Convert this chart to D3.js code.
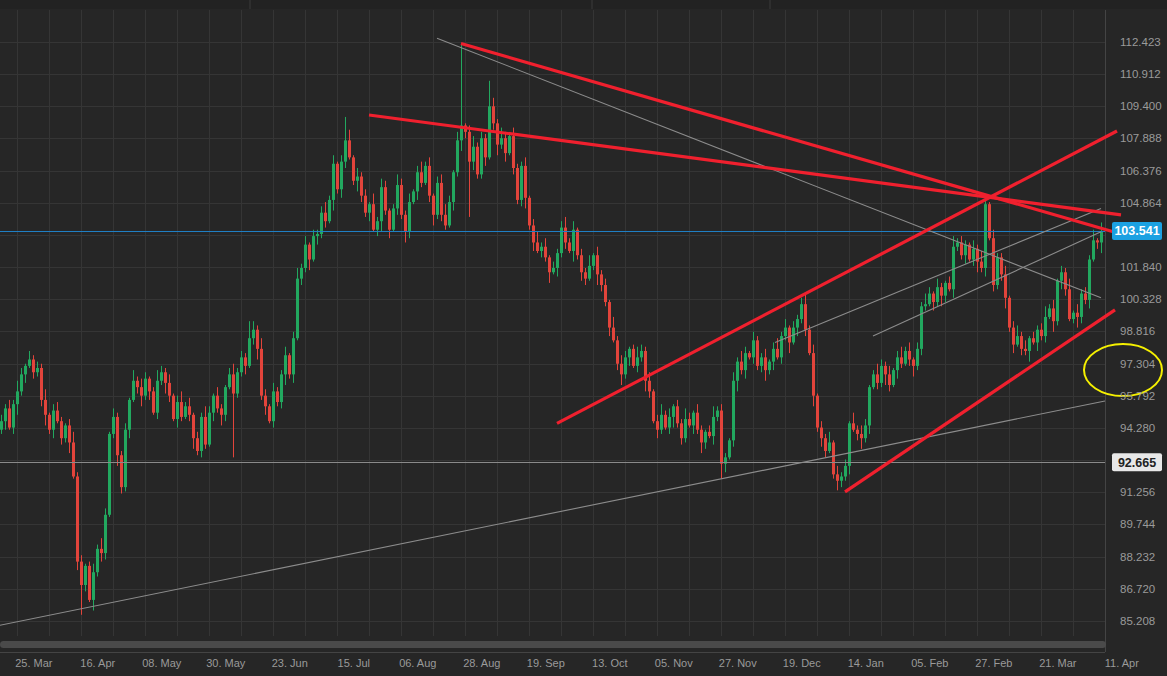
<!DOCTYPE html>
<html>
<head>
<meta charset="utf-8">
<script src="https://cdn.jsdelivr.net/npm/d3@7"></script>
<style>
  html, body { margin: 0; padding: 0; background: #262626; overflow: hidden; }
  svg { display: block; }
</style>
</head>
<body>
<svg id="chart" width="1167" height="676"></svg>
<script>
// daily closes, one per trading day
const closes = [
  94.6,95.2,94.3,95.4,96.0,96.8,97.2,97.5,96.9,97.1,
  95.6,94.9,94.2,95.1,94.6,93.8,94.4,93.6,92.0,88.0,
  86.9,87.8,86.2,87.5,88.6,88.4,90.2,94.0,94.8,93.0,
  91.5,94.2,95.6,96.5,96.2,95.8,96.6,96.0,95.0,96.5,
  96.9,96.4,95.8,94.7,95.5,94.8,95.3,94.9,93.8,93.2,
  94.8,93.5,95.0,95.8,95.2,94.9,96.2,96.8,95.9,96.9,
  97.6,97.2,98.5,98.9,98.0,95.8,95.3,94.6,96.0,95.5,
  96.8,97.7,96.8,98.5,101.3,101.8,102.9,102.2,103.3,103.4,
  104.4,104.0,105.0,106.7,105.5,106.8,107.8,107.0,105.9,106.1,
  105.2,104.4,104.8,103.6,104.0,105.6,104.5,103.6,104.6,105.7,
  104.3,103.5,104.9,105.4,106.3,105.8,106.6,105.2,104.3,105.8,
  104.3,103.8,104.9,106.3,107.8,108.5,108.2,106.8,107.5,106.2,
  107.9,107.0,109.4,108.6,107.6,107.9,107.2,108.0,106.5,105.0,
  106.6,105.1,103.8,103.0,102.6,102.8,102.3,101.6,101.8,102.5,
  103.7,103.0,102.6,103.6,102.4,101.6,101.3,101.9,102.4,101.5,
  101.0,100.2,99.0,98.4,97.3,96.8,97.6,98.0,97.2,97.6,
  97.9,96.5,96.0,94.6,94.2,94.9,94.3,94.8,95.3,94.5,
  93.8,94.7,94.4,95.0,94.2,93.6,94.1,93.9,94.8,95.1,
  92.6,92.9,93.7,96.5,97.4,97.0,97.8,97.6,98.4,97.2,
  97.6,97.0,97.4,98.0,97.6,98.6,99.0,98.3,99.0,99.4,
  100.1,98.9,97.8,95.8,94.3,93.8,93.2,93.6,92.1,91.8,
  92.0,92.5,94.5,94.2,94.0,93.8,94.4,96.2,96.8,96.4,
  97.2,96.8,96.3,97.0,97.6,97.3,97.9,97.5,97.2,98.0,
  100.0,100.1,100.6,100.2,100.9,100.5,101.1,100.8,102.8,103.0,
  102.4,102.9,102.2,102.7,102.1,101.8,104.8,103.2,101.0,102.3,
  101.5,100.4,99.0,98.2,98.6,98.0,97.9,98.5,98.3,98.9,
  98.6,99.5,99.9,99.3,101.2,101.6,100.8,99.4,99.7,99.5,
  100.6,100.3,102.2,103.1,103.0,103.541
];
const firstOpen = 94.2;
// wick lengths in tenths (base 36 digit per bar)
const upWick = "3242531423251342135231242531422315243125324135241325314213523214253142241352413235241325142315243125324135241345314213523214253142241352413235241325142315243125324135241325314213523214253142241352413235241325142315243125324135241325314213523214253142241352413235241325142325143";
const dnWick = "2413524132352413251423152431253241352413253142135232142531422413524132352413251423152431253241352413253142135232142531422413524132352413251423152431253241352413253142135232142531422413524132352413251423152431253241352413253142135232142531422413524132352413251423152431253241352413";
const highOverrides = [[115, 112.35], [122, 110.6], [246, 104.95], [86, 108.9], [62, 99.3]];
const lowOverrides = [[20, 85.5], [117, 104.2], [180, 91.9], [209, 91.35], [58, 92.9]];

const yTicks = [112.423,110.912,109.400,107.888,106.376,104.864,103.352,101.840,100.328,98.816,97.304,95.792,94.280,92.768,91.256,89.744,88.232,86.720,85.208];
const xLabels = ["25. Mar","16. Apr","08. May","30. May","23. Jun","15. Jul","06. Aug","28. Aug","19. Sep","13. Oct","05. Nov","27. Nov","19. Dec","14. Jan","05. Feb","27. Feb","21. Mar","11. Apr"];
const lastPrice = 103.541;
const refLevel = 92.665;

// drawn annotations: [barIndex, price] endpoints
const redLines = [
  [[115, 112.35], [280, 103.4]],
  [[92, 108.99], [280, 104.3]],
  [[139, 94.5], [279, 108.24]],
  [[211, 91.28], [278.5, 99.83]],
];
const grayLines = [
  [[109, 112.6], [275, 100.4]],
  [[-0.5, 85.0], [276, 95.55]],
  [[193.5, 98.3], [275, 104.6]],
  [[218, 98.6], [275, 103.5]],
];

const svg = d3.select('#chart');
const W = 1167, H = 676;
const plotRight = 1105, plotTop = 10, plotBottom = 636;

const x = d3.scaleLinear().domain([-0.25, 275.75]).range([0, 1104]);
const y = d3.scaleLinear().domain([85.208, 112.423]).range([621, 42]);

svg.append('rect').attr('width', W).attr('height', H).attr('fill', '#262626');

// top tab strip
svg.append('rect').attr('x', 0).attr('y', 0).attr('width', W).attr('height', 9).attr('fill', '#222');
[250, 592, 770].forEach(v => svg.append('line').attr('x1', v).attr('x2', v).attr('y1', 0).attr('y2', 9).attr('stroke', '#3a3a3a'));

svg.append('clipPath').attr('id', 'plot').append('rect')
  .attr('x', 0).attr('y', plotTop).attr('width', plotRight).attr('height', plotBottom - plotTop);

const grid = svg.append('g');
grid.selectAll('.hg').data(yTicks).enter().append('line')
  .attr('x1', 0).attr('x2', plotRight)
  .attr('y1', d => Math.round(y(d)) + 0.5).attr('y2', d => Math.round(y(d)) + 0.5)
  .attr('stroke', '#353535');
grid.selectAll('.vg').data(d3.range(4, 280, 8)).enter().append('line')
  .attr('x1', d => Math.round(x(d)) + 0.5).attr('x2', d => Math.round(x(d)) + 0.5)
  .attr('y1', plotTop).attr('y2', plotBottom)
  .attr('stroke', '#353535');

// plot frame
svg.append('line').attr('x1', plotRight + 0.5).attr('x2', plotRight + 0.5).attr('y1', plotTop).attr('y2', 652).attr('stroke', '#444');
svg.append('line').attr('x1', 0).attr('x2', plotRight).attr('y1', 652.5).attr('y2', 652.5).attr('stroke', '#444');

const g = svg.append('g').attr('clip-path', 'url(#plot)');

// candles
const candles = closes.map((c, i) => {
  const o = i === 0 ? firstOpen : closes[i - 1];
  let h = Math.max(o, c) + parseInt(upWick[i], 36) / 10;
  let l = Math.min(o, c) - parseInt(dnWick[i], 36) / 10;
  highOverrides.forEach(([k, v]) => { if (k === i) h = v; });
  lowOverrides.forEach(([k, v]) => { if (k === i) l = v; });
  return { i, o, h, l, c };
});
const up = '#22a85f', dn = '#e2443b';
const cg = g.selectAll('.candle').data(candles).enter().append('g');
cg.append('line')
  .attr('x1', d => Math.round(x(d.i)) + 0.5).attr('x2', d => Math.round(x(d.i)) + 0.5)
  .attr('y1', d => y(d.h)).attr('y2', d => y(d.l))
  .attr('stroke', d => d.c >= d.o ? up : dn);
cg.append('rect')
  .attr('x', d => Math.round(x(d.i)) - 1)
  .attr('width', 3)
  .attr('y', d => y(Math.max(d.o, d.c)))
  .attr('height', d => Math.max(1, Math.abs(y(d.o) - y(d.c))))
  .attr('fill', d => d.c >= d.o ? up : dn);

// level lines
g.append('line').attr('x1', 0).attr('x2', plotRight)
  .attr('y1', Math.round(y(refLevel)) + 0.5).attr('y2', Math.round(y(refLevel)) + 0.5)
  .attr('stroke', '#8a8a8a').attr('stroke-width', 1.2);
g.append('line').attr('x1', 0).attr('x2', plotRight)
  .attr('y1', Math.round(y(lastPrice)) + 0.5).attr('y2', Math.round(y(lastPrice)) + 0.5)
  .attr('stroke', '#1f7fc4');

const line = d3.line().x(d => x(d[0])).y(d => y(d[1]));
svg.selectAll('.gl').data(grayLines).enter().append('path')
  .attr('d', line).attr('fill', 'none').attr('stroke', '#8c8c8c').attr('stroke-width', 1.1);
svg.selectAll('.rl').data(redLines).enter().append('path')
  .attr('d', line).attr('fill', 'none').attr('stroke', '#f0202e').attr('stroke-width', 3.2);

// yellow marker
svg.append('ellipse').attr('cx', 1123).attr('cy', y(97.0)).attr('rx', 39).attr('ry', 26)
  .attr('fill', 'none').attr('stroke', '#f5f000').attr('stroke-width', 2);

// y axis labels (the two price tags sit over their nearest ticks, as in the source)
const font = '"Liberation Sans Narrow", "Arial Narrow", "Liberation Sans", sans-serif';
const hidden = [103.352, 92.768];
svg.selectAll('.yl').data(yTicks.filter(d => !hidden.includes(d))).enter().append('text')
  .attr('x', 1120).attr('y', d => y(d) + 4)
  .attr('fill', '#9a9a9a').attr('font-family', font).attr('font-size', 11.5)
  .text(d => d.toFixed(3));

// price tags
svg.append('rect').attr('x', 1112).attr('y', y(refLevel) - 9).attr('width', 50).attr('height', 18).attr('rx', 2).attr('fill', '#e8e8e8');
svg.append('text').attr('x', 1137).attr('y', y(refLevel) + 4.5).attr('text-anchor', 'middle')
  .attr('fill', '#222').attr('font-family', font).attr('font-size', 12.5).attr('font-weight', 'bold').text(refLevel.toFixed(3));
svg.append('rect').attr('x', 1112).attr('y', y(lastPrice) - 9).attr('width', 50).attr('height', 18).attr('rx', 2).attr('fill', '#1ba1e2');
svg.append('text').attr('x', 1137).attr('y', y(lastPrice) + 4.5).attr('text-anchor', 'middle')
  .attr('fill', '#fff').attr('font-family', font).attr('font-size', 12.5).attr('font-weight', 'bold').text(lastPrice.toFixed(3));

// scrollbar
svg.append('rect').attr('x', 0).attr('y', 641).attr('width', 1106).attr('height', 7).attr('rx', 3.5).attr('fill', '#4a4a4a');

// x axis labels
svg.selectAll('.xl').data(xLabels).enter().append('text')
  .attr('x', (d, k) => x(8.2 + 16 * k)).attr('y', 667).attr('text-anchor', 'middle')
  .attr('fill', '#9a9a9a').attr('font-family', font).attr('font-size', 11)
  .text(d => d);
</script>
</body>
</html>
